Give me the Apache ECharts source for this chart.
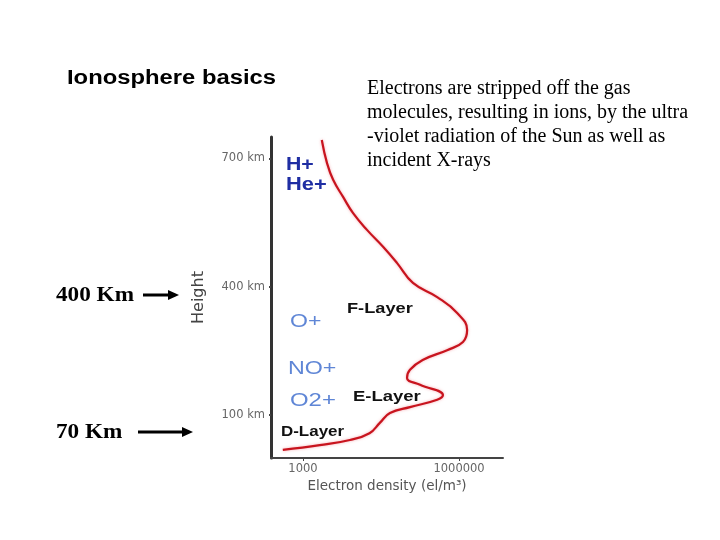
<!DOCTYPE html>
<html>
<head>
<meta charset="utf-8">
<script src="https://cdn.jsdelivr.net/npm/echarts@6/dist/echarts.min.js"></script>
<style>
html,body{margin:0;padding:0;background:#fff;}
#chart{width:720px;height:540px;}
</style>
</head>
<body>
<div id="chart"></div>
<script>
// Electron density profile (top to bottom)
const density = [2300, 2900, 3800, 5900, 9200, 17000, 35000, 64000, 130000, 380000, 920000, 1430000, 1190000, 590000, 200000, 114000, 100000, 178000, 490000, 380000, 114000, 47000, 30000, 19000, 8000, 2100, 410];
const heightKm = [743, 689, 650, 610, 572, 533, 493, 456, 409, 376, 339, 299, 271, 252, 229, 206, 187, 171, 147, 136, 119, 105, 82, 58, 42, 30, 19];
const yTicks = [100, 400, 700];
const xTicks = [1000, 1000000];
const titleText = 'Ionosphere basics';
const bodyLines = ['Electrons are stripped off the gas', 'molecules, resulting in ions, by the ultra', '-violet radiation of the Sun as well as', 'incident X-rays'];
const ionLabels = ['H+', 'He+', 'O+', 'NO+', 'O2+'];
const layerLabels = ['F-Layer', 'E-Layer', 'D-Layer'];
const sideLabels = ['400 Km', '70 Km'];

const points = density.map((d, i) => [d, heightKm[i]]);

const chart = echarts.init(document.getElementById('chart'));

function arrow(x1, x2, y) {
  return {
    type: 'group',
    children: [
      {type: 'line', shape: {x1: x1, y1: y, x2: x2 - 8, y2: y}, style: {stroke: '#000', lineWidth: 3}},
      {type: 'polygon', shape: {points: [[x2 - 11, y - 5], [x2, y], [x2 - 11, y + 5]]}, style: {fill: '#000'}}
    ]
  };
}

function label(text, x, y, style, sx) {
  return {type: 'text', x: x, y: y, scaleX: sx, style: Object.assign({text: text}, style)};
}

const sans = '"Liberation Sans", Arial, sans-serif';
const serif = '"Liberation Serif", "Times New Roman", serif';
const ionStyleDark = {fill: '#1f2ea3', font: 'bold 19px ' + sans, verticalAlign: 'middle'};
const ionStyleLight = {fill: '#5f86d6', font: '18px ' + sans, verticalAlign: 'middle'};
const layerStyle = {fill: '#111', font: 'bold 14px ' + sans, verticalAlign: 'middle'};
const sideStyle = {fill: '#000', font: 'bold 20px ' + serif, verticalAlign: 'middle'};

chart.setOption({
  animation: false,
  backgroundColor: '#fff',
  grid: {left: 271, right: 217, top: 137, bottom: 82},
  xAxis: {
    type: 'log',
    logBase: 10,
    min: 243,
    max: 7000000,
    name: 'Electron density (el/m³)',
    nameLocation: 'middle',
    nameGap: 21,
    nameTextStyle: {color: '#555', fontSize: 13.5, fontFamily: '"DejaVu Sans", sans-serif'},
    axisLine: {show: true, lineStyle: {color: '#444', width: 2}},
    axisTick: {show: true, length: 3, customValues: xTicks, lineStyle: {color: '#444'}},
    axisLabel: {customValues: xTicks, color: '#666', fontSize: 11.5, fontFamily: '"DejaVu Sans", sans-serif', margin: 5, formatter: v => String(Math.round(v))},
    splitLine: {show: false},
    minorTick: {show: false}
  },
  yAxis: {
    type: 'value',
    min: 0,
    max: 750,
    name: 'Height',
    nameLocation: 'middle',
    nameRotate: 90,
    nameGap: 64,
    nameTextStyle: {color: '#444', fontSize: 16, fontFamily: '"DejaVu Sans", sans-serif'},
    axisLine: {show: true, lineStyle: {color: '#333', width: 3}},
    axisTick: {show: true, length: 2, customValues: yTicks, lineStyle: {color: '#444', width: 2}},
    axisLabel: {customValues: yTicks, color: '#666', fontSize: 11.5, fontFamily: '"DejaVu Sans", sans-serif', margin: 6, formatter: v => v + ' km'},
    splitLine: {show: false}
  },
  series: [{
    type: 'line',
    data: points,
    smooth: 0.45,
    symbol: 'none',
    lineStyle: {color: '#c8141e', width: 2.2, shadowColor: 'rgba(240,120,130,0.6)', shadowBlur: 3}
  }],
  graphic: [
    {type: 'text', x: 67, y: 78, scaleX: 1.19, style: {text: titleText, fill: '#000', font: 'bold 20px ' + sans, verticalAlign: 'middle'}},
    {type: 'text', left: 367, top: 77, style: {text: bodyLines.join('\n'), fill: '#000', font: '20px ' + serif, lineHeight: 24}},
    label(sideLabels[0], 56, 296, sideStyle, 1.16),
    label(sideLabels[1], 56, 433, sideStyle, 1.16),
    arrow(143, 179, 295),
    arrow(138, 193, 432),
    label(ionLabels[0], 286, 165, ionStyleDark, 1.12),
    label(ionLabels[1], 286, 185, ionStyleDark, 1.15),
    label(ionLabels[2], 290, 322, ionStyleLight, 1.28),
    label(ionLabels[3], 288, 369, ionStyleLight, 1.29),
    label(ionLabels[4], 290, 401, ionStyleLight, 1.33),
    label(layerLabels[0], 347, 309, layerStyle, 1.3),
    label(layerLabels[1], 353, 397, layerStyle, 1.32),
    label(layerLabels[2], 281, 432, layerStyle, 1.21)
  ]
});
</script>
</body>
</html>
